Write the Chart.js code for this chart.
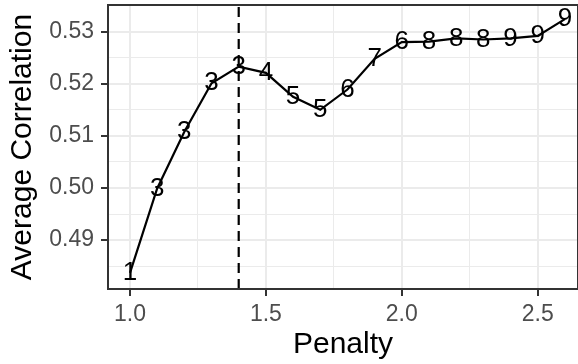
<!DOCTYPE html>
<html><head><meta charset="utf-8">
<script src="https://cdn.jsdelivr.net/npm/chart.js@4.4.1/dist/chart.umd.min.js"></script>
<style>html,body{margin:0;padding:0;background:#fff}#wrap{width:578px;height:364px;position:relative}</style>
</head><body><div id="wrap"><canvas id="c"></canvas></div>
<script>
const penalty = [1.0, 1.1, 1.2, 1.3, 1.4, 1.5, 1.6, 1.7, 1.8, 1.9, 2.0, 2.1, 2.2, 2.3, 2.4, 2.5, 2.6];
const avgCorrelation = [0.4837, 0.4999, 0.5108, 0.5201, 0.5233, 0.5221, 0.5175, 0.5150, 0.5189, 0.5248, 0.5280, 0.5281, 0.5287, 0.5285, 0.5287, 0.5292, 0.5324];
const pointLabels = ['1', '3', '3', '3', '3', '4', '5', '5', '6', '7', '6', '8', '8', '8', '9', '9', '9'];
const selectedPenalty = 1.4;
const xMajorTicks = [1.0, 1.5, 2.0, 2.5];
const xMinorTicks = [1.25, 1.75, 2.25];
const yMajorTicks = [0.49, 0.50, 0.51, 0.52, 0.53];
const yMinorTicks = [0.485, 0.495, 0.505, 0.515, 0.525];
const xLimits = [0.9191, 2.6483];
const yLimits = [0.48061, 0.53512];

const FONT = '"Liberation Sans", Arial, Helvetica, sans-serif';
const isMajor = (v, list) => list.some(m => Math.abs(m - v) < 1e-9);

const lineData = penalty.map((x, i) => ({x, y: avgCorrelation[i]}));
const vlineData = [{x: selectedPenalty, y: yLimits[0]}, {x: selectedPenalty, y: yLimits[1]}];

const labelPlugin = {
  id: 'pointLabels',
  afterDatasetsDraw(chart) {
    const ctx = chart.ctx;
    const meta = chart.getDatasetMeta(0);
    ctx.save();
    ctx.font = '26px ' + FONT;
    ctx.fillStyle = '#000000';
    ctx.textAlign = 'center';
    ctx.textBaseline = 'middle';
    meta.data.forEach((el, i) => {
      ctx.fillText(pointLabels[i], el.x, el.y);
    });
    ctx.restore();
  }
};
const borderPlugin = {
  id: 'panelBorder',
  afterDraw(chart) {
    const a = chart.chartArea;
    const ctx = chart.ctx;
    ctx.save();
    ctx.strokeStyle = '#333333';
    ctx.lineWidth = 2;
    ctx.strokeRect(a.left, a.top, a.right - a.left, a.bottom - a.top);
    ctx.restore();
  }
};

function makeTicks(major, minor) {
  return function(scale) {
    scale.ticks = major.concat(minor).sort((a, b) => a - b).map(v => ({value: v}));
  };
}

new Chart(document.getElementById('c'), {
  type: 'line',
  data: {
    datasets: [
      {data: lineData, borderColor: '#000000', borderWidth: 2.2, pointRadius: 0, tension: 0, fill: false},
      {data: vlineData, borderColor: '#000000', borderWidth: 2.2, borderDash: [10, 6], pointRadius: 0, fill: false}
    ]
  },
  options: {
    responsive: true,
    maintainAspectRatio: false,
    animation: false,
    devicePixelRatio: 1,
    layout: {padding: {left: 0, right: 0, top: 5, bottom: 0}},
    plugins: {legend: {display: false}, tooltip: {enabled: false}},
    scales: {
      x: {
        type: 'linear',
        min: xLimits[0], max: xLimits[1],
        afterBuildTicks: makeTicks(xMajorTicks, xMinorTicks),
        afterFit(s) { s.height = 75; s.paddingLeft = 0; s.paddingRight = 0; s.paddingTop = 0; s.paddingBottom = 0; },
        border: {display: false},
        grid: {
          color: '#EBEBEB',
          lineWidth: c => isMajor(c.tick.value, xMajorTicks) ? 2 : 1,
          drawTicks: true,
          tickLength: 7,
          tickWidth: 2,
          tickColor: c => isMajor(c.tick.value, xMajorTicks) ? '#333333' : 'rgba(0,0,0,0)'
        },
        ticks: {
          autoSkip: false, maxRotation: 0, padding: 5,
          color: '#4D4D4D',
          font: {family: FONT, size: 23},
          callback: v => isMajor(v, xMajorTicks) ? v.toFixed(1) : ''
        },
        title: {display: true, text: 'Penalty', color: '#000000',
          font: {family: FONT, size: 30, lineHeight: 1}, padding: {top: 0, bottom: 4}}
      },
      y: {
        type: 'linear',
        min: yLimits[0], max: yLimits[1],
        afterBuildTicks: makeTicks(yMajorTicks, yMinorTicks),
        afterFit(s) { s.width = 108; s.paddingLeft = 0; s.paddingRight = 0; s.paddingTop = 0; s.paddingBottom = 0; },
        border: {display: false},
        grid: {
          color: '#EBEBEB',
          lineWidth: c => isMajor(c.tick.value, yMajorTicks) ? 2 : 1,
          drawTicks: true,
          tickLength: 7,
          tickWidth: 2,
          tickColor: c => isMajor(c.tick.value, yMajorTicks) ? '#333333' : 'rgba(0,0,0,0)'
        },
        ticks: {
          autoSkip: false, padding: 7,
          color: '#4D4D4D',
          font: {family: FONT, size: 23},
          callback: v => isMajor(v, yMajorTicks) ? v.toFixed(2) : ''
        },
        title: {display: true, text: 'Average Correlation', color: '#000000',
          font: {family: FONT, size: 30, lineHeight: 1}, padding: {top: 8, bottom: 0}}
      }
    }
  },
  plugins: [labelPlugin, borderPlugin]
});
</script>
</body></html>
